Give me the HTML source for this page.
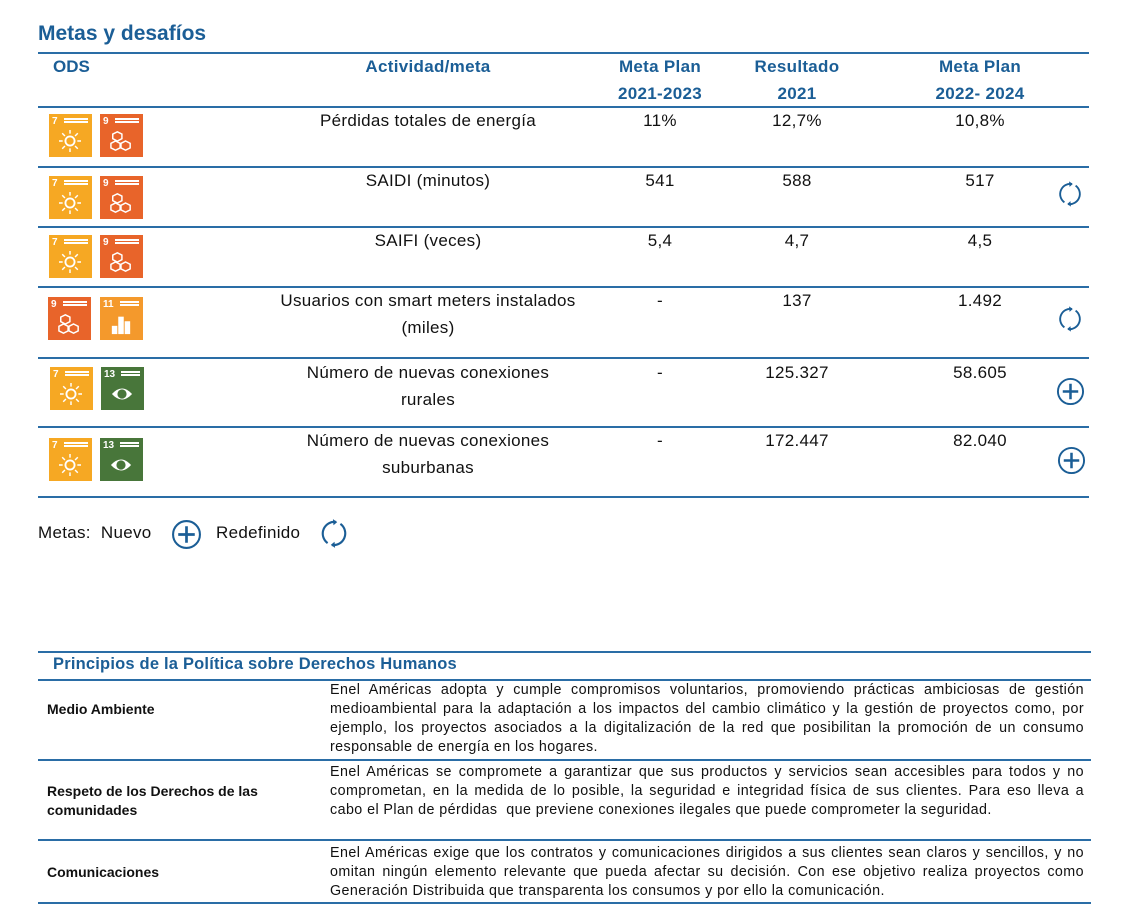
<!DOCTYPE html>
<html><head><meta charset="utf-8"><style>
body{margin:0;width:1126px;height:923px;background:#fff;position:relative;font-family:"Liberation Sans",sans-serif;color:#111;overflow:hidden}
.a{position:absolute}
.h{color:#1b5e96;font-weight:bold}
.ln{position:absolute;height:1.5px;background:#2a6da6}
.c{position:absolute;text-align:center;font-size:17px;line-height:27px;letter-spacing:0.3px}
.sdg{position:absolute;width:43px;height:43px;color:#fff;font-size:9px;font-weight:bold;overflow:hidden}
.sdg b{position:absolute;left:3px;top:2px;font-size:10px}
.sdg i{position:absolute;left:15px;top:4px;width:24px;height:1.5px;background:#fff;box-shadow:0 3px 0 #fff}
.y{background:#f6a823}.o{background:#e8642a}.o2{background:#f4992c}.g{background:#48763a}
.sdg svg{position:absolute;left:10px;top:16px}
.t{position:absolute;font-size:14.3px;line-height:19px;text-align:justify;left:330px;width:754px;letter-spacing:0.42px}
.lb{position:absolute;left:47px;font-size:14px;font-weight:bold;line-height:19px}
</style></head><body>
<svg width="0" height="0" style="position:absolute">
<defs>
<symbol id="plus" viewBox="0 0 30 30"><circle cx="15" cy="15" r="13" fill="none" stroke="#1b5e96" stroke-width="2"/><path d="M15 7v16M7 15h16" stroke="#1b5e96" stroke-width="2.6"/></symbol>
<symbol id="ref" viewBox="0 0 30 30"><path d="M9 24A11 11 0 0 1 17 4.2" fill="none" stroke="#1b5e96" stroke-width="2"/><path d="M21 6A11 11 0 0 1 13 25.8" fill="none" stroke="#1b5e96" stroke-width="2"/><path d="M14 1.5l4 2.8-3.5 3z" fill="#1b5e96"/><path d="M16 28.5l-4-2.8 3.5-3z" fill="#1b5e96"/></symbol>
<symbol id="sun" viewBox="0 0 24 24"><circle cx="12" cy="12" r="5" fill="none" stroke="#fff" stroke-width="2"/><g stroke="#fff" stroke-width="1.6"><path d="M12 0v4M12 20v4M0 12h4M20 12h4M3.5 3.5l3 3M17.5 17.5l3 3M3.5 20.5l3-3M17.5 6.5l3-3"/></g></symbol>
<symbol id="cube" viewBox="0 0 24 24"><g fill="none" stroke="#fff" stroke-width="1.6"><path d="M8 2l5 2.5v5L8 12 3 9.5v-5z"/><path d="M6 12l5 2.5v5L6 22 1 19.5v-5z"/><path d="M17 12l5 2.5v5L17 22l-5-2.5v-5z"/></g></symbol>
<symbol id="eye" viewBox="0 0 24 24"><path d="M1 12Q12 0 23 12Q12 24 1 12z" fill="#fff"/><circle cx="12" cy="12" r="5" fill="#48763a"/></symbol>
<symbol id="city" viewBox="0 0 24 24"><g fill="#fff"><rect x="2" y="14" width="6" height="9"/><rect x="9" y="4" width="6" height="19"/><rect x="16" y="9" width="6" height="14"/></g></symbol>
</defs></svg>

<div class="a h" style="left:38px;top:22px;font-size:21px">Metas y desafíos</div>
<div class="ln" style="left:38px;top:52px;width:1051px"></div>
<div class="a h" style="left:53px;top:57px;font-size:17px">ODS</div>
<div class="c h" style="left:328px;width:200px;top:53px">Actividad/meta</div>
<div class="c h" style="left:590px;width:140px;top:53px">Meta Plan<br>2021-2023</div>
<div class="c h" style="left:727px;width:140px;top:53px">Resultado<br>2021</div>
<div class="c h" style="left:910px;width:140px;top:53px">Meta Plan<br>2022- 2024</div>
<div class="ln" style="left:38px;top:106px;width:1051px"></div>
<div class="ln" style="left:38px;top:166px;width:1051px"></div>
<div class="ln" style="left:38px;top:226px;width:1051px"></div>
<div class="ln" style="left:38px;top:286px;width:1051px"></div>
<div class="ln" style="left:38px;top:357px;width:1051px"></div>
<div class="ln" style="left:38px;top:426px;width:1051px"></div>
<div class="ln" style="left:38px;top:496px;width:1051px"></div>

<!-- row 1 -->
<div class="sdg y" style="left:49px;top:114px"><b>7</b><i></i><svg width="22" height="22"><use href="#sun"/></svg></div>
<div class="sdg o" style="left:100px;top:114px"><b>9</b><i></i><svg width="22" height="22"><use href="#cube"/></svg></div>
<div class="c" style="left:258px;width:340px;top:107px">Pérdidas totales de energía</div>
<div class="c" style="left:590px;width:140px;top:107px">11%</div>
<div class="c" style="left:727px;width:140px;top:107px">12,7%</div>
<div class="c" style="left:910px;width:140px;top:107px">10,8%</div>
<!-- row 2 -->
<div class="sdg y" style="left:49px;top:176px"><b>7</b><i></i><svg width="22" height="22"><use href="#sun"/></svg></div>
<div class="sdg o" style="left:100px;top:176px"><b>9</b><i></i><svg width="22" height="22"><use href="#cube"/></svg></div>
<div class="c" style="left:258px;width:340px;top:167px">SAIDI (minutos)</div>
<div class="c" style="left:590px;width:140px;top:167px">541</div>
<div class="c" style="left:727px;width:140px;top:167px">588</div>
<div class="c" style="left:910px;width:140px;top:167px">517</div>
<svg class="a" style="left:1056px;top:180px" width="28" height="28"><use href="#ref"/></svg>
<!-- row 3 -->
<div class="sdg y" style="left:49px;top:235px"><b>7</b><i></i><svg width="22" height="22"><use href="#sun"/></svg></div>
<div class="sdg o" style="left:100px;top:235px"><b>9</b><i></i><svg width="22" height="22"><use href="#cube"/></svg></div>
<div class="c" style="left:258px;width:340px;top:227px">SAIFI (veces)</div>
<div class="c" style="left:590px;width:140px;top:227px">5,4</div>
<div class="c" style="left:727px;width:140px;top:227px">4,7</div>
<div class="c" style="left:910px;width:140px;top:227px">4,5</div>
<!-- row 4 -->
<div class="sdg o" style="left:48px;top:297px"><b>9</b><i></i><svg width="22" height="22"><use href="#cube"/></svg></div>
<div class="sdg o2" style="left:100px;top:297px"><b>11</b><i style="left:20px;width:19px"></i><svg width="22" height="22"><use href="#city"/></svg></div>
<div class="c" style="left:248px;width:360px;top:287px">Usuarios con smart meters instalados<br>(miles)</div>
<div class="c" style="left:590px;width:140px;top:287px">-</div>
<div class="c" style="left:727px;width:140px;top:287px">137</div>
<div class="c" style="left:910px;width:140px;top:287px">1.492</div>
<svg class="a" style="left:1056px;top:305px" width="28" height="28"><use href="#ref"/></svg>
<!-- row 5 -->
<div class="sdg y" style="left:50px;top:367px"><b>7</b><i></i><svg width="22" height="22"><use href="#sun"/></svg></div>
<div class="sdg g" style="left:101px;top:367px"><b>13</b><i style="left:20px;width:19px"></i><svg width="26" height="22" style="left:8px"><use href="#eye"/></svg></div>
<div class="c" style="left:258px;width:340px;top:359px">Número de nuevas conexiones<br>rurales</div>
<div class="c" style="left:590px;width:140px;top:359px">-</div>
<div class="c" style="left:727px;width:140px;top:359px">125.327</div>
<div class="c" style="left:910px;width:140px;top:359px">58.605</div>
<svg class="a" style="left:1056px;top:377px" width="29" height="29"><use href="#plus"/></svg>
<!-- row 6 -->
<div class="sdg y" style="left:49px;top:438px"><b>7</b><i></i><svg width="22" height="22"><use href="#sun"/></svg></div>
<div class="sdg g" style="left:100px;top:438px"><b>13</b><i style="left:20px;width:19px"></i><svg width="26" height="22" style="left:8px"><use href="#eye"/></svg></div>
<div class="c" style="left:258px;width:340px;top:427px">Número de nuevas conexiones<br>suburbanas</div>
<div class="c" style="left:590px;width:140px;top:427px">-</div>
<div class="c" style="left:727px;width:140px;top:427px">172.447</div>
<div class="c" style="left:910px;width:140px;top:427px">82.040</div>
<svg class="a" style="left:1057px;top:446px" width="29" height="29"><use href="#plus"/></svg>

<!-- legend -->
<div class="a" style="left:38px;top:523px;font-size:17px;letter-spacing:0.3px">Metas:&nbsp;&nbsp;Nuevo</div>
<svg class="a" style="left:171px;top:519px" width="31" height="31"><use href="#plus"/></svg>
<div class="a" style="left:216px;top:523px;font-size:17px;letter-spacing:0.3px">Redefinido</div>
<svg class="a" style="left:318px;top:517px" width="32" height="33"><use href="#ref"/></svg>

<!-- bottom table -->
<div class="ln" style="left:38px;top:651px;width:1053px"></div>
<div class="a h" style="left:53px;top:655px;font-size:16.5px;letter-spacing:0.2px">Principios de la Política sobre Derechos Humanos</div>
<div class="ln" style="left:38px;top:679px;width:1053px"></div>
<div class="lb" style="top:700px">Medio Ambiente</div>
<div class="t" style="top:681px">Enel Américas adopta y cumple compromisos voluntarios, promoviendo prácticas ambiciosas de gestión medioambiental para la adaptación a los impactos del cambio climático y la gestión de proyectos como, por ejemplo, los proyectos asociados a la digitalización de la red que posibilitan la promoción de un consumo responsable de energía en los hogares.</div>
<div class="ln" style="left:38px;top:759px;width:1053px"></div>
<div class="lb" style="top:782px">Respeto de los Derechos de las<br>comunidades</div>
<div class="t" style="top:763px">Enel Américas se compromete a garantizar que sus productos y servicios sean accesibles para todos y no comprometan, en la medida de lo posible, la seguridad e integridad física de sus clientes. Para eso lleva a cabo el Plan de pérdidas&nbsp; que previene conexiones ilegales que puede comprometer la seguridad.</div>
<div class="ln" style="left:38px;top:839px;width:1053px"></div>
<div class="lb" style="top:863px">Comunicaciones</div>
<div class="t" style="top:844px">Enel Américas exige que los contratos y comunicaciones dirigidos a sus clientes sean claros y sencillos, y no omitan ningún elemento relevante que pueda afectar su decisión. Con ese objetivo realiza proyectos como Generación Distribuida que transparenta los consumos y por ello la comunicación.</div>
<div class="ln" style="left:38px;top:902px;width:1053px"></div>
</body></html>
